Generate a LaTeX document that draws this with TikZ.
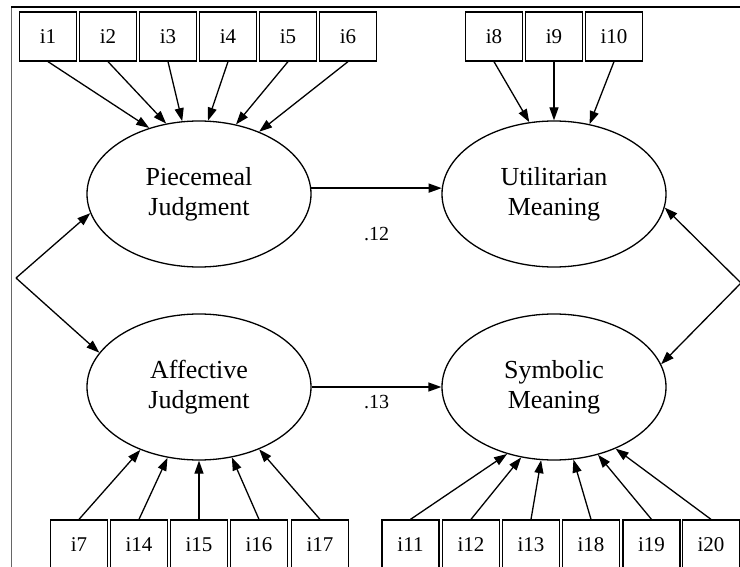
\documentclass[tikz,border=0pt]{standalone}
\usepackage{fontspec}
\setmainfont{Liberation Serif}
\usetikzlibrary{arrows.meta, shapes.geometric}

\begin{document}
\begin{tikzpicture}[x=1pt, y=-1pt, line width=1.3pt,
  item/.style={draw, rectangle, minimum width=57pt, minimum height=49pt, inner sep=0pt, font=\fontsize{21}{24}\selectfont},
  factor/.style={draw, ellipse, minimum width=224pt, minimum height=146pt, inner sep=0pt, align=center, font=\fontsize{26}{30}\selectfont},
  coef/.style={inner sep=2pt, font=\fontsize{20}{22}\selectfont},
  loading/.style={-{Triangle[length=13pt, width=9pt]}}]

\clip (0,0) rectangle (740,567);
\draw[line width=0.8pt, black!60] (11,567) -- (11,7);
\draw (11,7) -- (740,7);

\node[factor] (pj) at (199,194) {Piecemeal\\Judgment};
\node[factor] (um) at (554,194) {Utilitarian\\Meaning};
\node[factor] (aj) at (199,387) {Affective\\Judgment};
\node[factor] (sm) at (554,387) {Symbolic\\Meaning};

\foreach \n/\x/\a in {1/48/127, 2/108/115, 3/168/103, 4/228/83, 5/288/62, 6/348/46}
  {\node[item] (i\n) at (\x,36.5) {i\n};
   \draw[loading] (i\n.south) -- (pj.\a);}

\foreach \n/\x/\a in {8/494/109, 9/554/90, 10/614/63}
  {\node[item] (i\n) at (\x,36.5) {i\n};
   \draw[loading] (i\n.south) -- (um.\a);}

\foreach \n/\x/\a in {7/79/227, 14/139/246, 15/199/270, 16/259/295, 17/320/314}
  {\node[item] (i\n) at (\x,544.5) {i\n};
   \draw[loading] (i\n.north) -- (aj.\a);}

\foreach \n/\x/\a in {11/410.5/235, 12/471/245.5, 13/531/260, 18/591/285, 19/651.5/303, 20/711/315}
  {\node[item] (i\n) at (\x,544.5) {i\n};
   \draw[loading] (i\n.north) -- (sm.\a);}

\draw[loading] (pj.3) -- node[coef, below=36pt] {.12} (um.177);
\draw[loading] (aj.east) -- node[coef, below=6pt] {.13} (sm.west);

\coordinate (cl) at (16,278);
\coordinate (cr) at (741,283);
\draw[loading] (cl) -- (pj.190);
\draw[loading] (cl) -- (aj.161);
\draw[loading] (cr) -- (um.353);
\draw[loading] (cr) -- (sm.12);

\end{tikzpicture}
\end{document}
